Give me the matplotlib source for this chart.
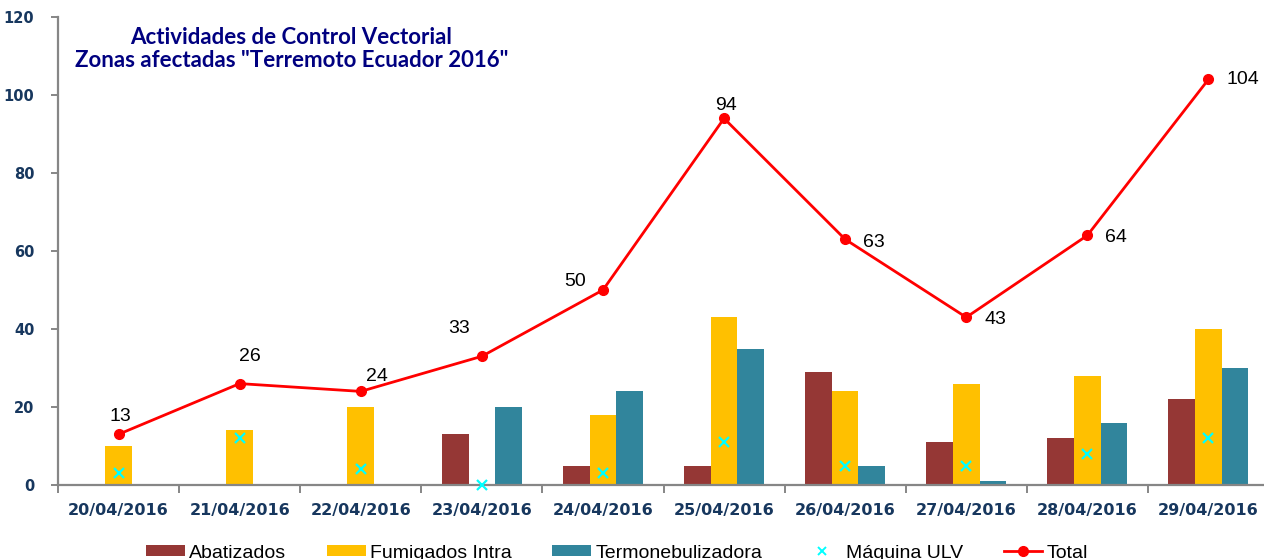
import matplotlib
matplotlib.use("Agg")
import matplotlib.pyplot as plt
from matplotlib.lines import Line2D
from matplotlib.patches import Patch
import numpy as np

# ---- data ----
fechas = ["20/04/2016", "21/04/2016", "22/04/2016", "23/04/2016", "24/04/2016",
          "25/04/2016", "26/04/2016", "27/04/2016", "28/04/2016", "29/04/2016"]
abatizados = [0, 0, 0, 13, 5, 5, 29, 11, 12, 22]
fumigados = [10, 14, 20, 0, 18, 43, 24, 26, 28, 40]
termonebulizadora = [0, 0, 0, 20, 24, 35, 5, 1, 16, 30]
maquina_ulv = [3, 12, 4, 0, 3, 11, 5, 5, 8, 12]
total = [13, 26, 24, 33, 50, 94, 63, 43, 64, 104]
yticks = [0, 20, 40, 60, 80, 100, 120]

# label offsets (pixels) for the Total data labels
label_offsets = [(2, 18), (10, 27), (16, 15), (-23, 28), (-28, 9),
                 (2, 13), (29, -3), (29, -2), (29, -2), (34, 0)]

C_AB = "#953735"
C_FU = "#FFC000"
C_TE = "#31859C"
C_ULV = "#00FFFF"
C_TOT = "#FF0000"
C_TICK = "#17375E"
C_AXIS = "#868686"

W, H = 1264, 559
fig = plt.figure(figsize=(W / 100, H / 100), dpi=100)
ax = fig.add_axes([58 / W, 74 / H, (1269 - 58) / W, (485 - 17) / H])

x = np.arange(len(fechas))
bw = 0.22
ax.bar(x - bw, abatizados, bw, color=C_AB, zorder=2, label="Abatizados")
ax.bar(x, fumigados, bw, color=C_FU, zorder=2, label="Fumigados Intra")
ax.bar(x + bw, termonebulizadora, bw, color=C_TE, zorder=2, label="Termonebulizadora")
ax.plot(x, maquina_ulv, linestyle="none", marker="x", markersize=7,
        markeredgewidth=1.6, color=C_ULV, zorder=4, clip_on=False)
ax.plot(x, total, color=C_TOT, linewidth=2.0, marker="o", markersize=7,
        zorder=5, clip_on=False)

for xi, v, (dx, dy) in zip(x, total, label_offsets):
    ax.annotate(str(v), (xi, v), xytext=(dx, dy), textcoords="offset pixels",
                ha="center", va="center", fontsize=14, family="Liberation Sans",
                color="black", zorder=6)

ax.set_xlim(-0.5, len(fechas) - 0.5)
ax.set_ylim(0, 120)
ax.set_yticks(yticks)
ax.set_yticklabels([str(t) for t in yticks])
ax.set_xticks(x)
ax.set_xticklabels(fechas)
ax.set_xticks(np.arange(-0.5, len(fechas)), minor=True)

for s in ["top", "right"]:
    ax.spines[s].set_visible(False)
for s in ["left", "bottom"]:
    ax.spines[s].set_color(C_AXIS)
    ax.spines[s].set_linewidth(1.6)

ax.tick_params(axis="x", which="major", length=0, pad=13)
ax.tick_params(axis="x", which="minor", length=6, width=1.4, color=C_AXIS)
ax.tick_params(axis="y", length=5, width=1.4, color=C_AXIS, pad=12)
for lab in ax.get_xticklabels():
    lab.set_fontsize(11.5)
    lab.set_fontweight("bold")
    lab.set_color(C_TICK)
    lab.set_family("DejaVu Sans")
for lab in ax.get_yticklabels():
    lab.set_fontsize(10.5)
    lab.set_fontweight("bold")
    lab.set_color(C_TICK)
    lab.set_family("DejaVu Sans")

# title
fig.text(291 / W, 1 - 37 / H, "Actividades de Control Vectorial", ha="center", va="center",
         fontsize=16, fontweight="bold", color="#000080", family="Lato")
fig.text(292 / W, 1 - 61 / H, 'Zonas afectadas "Terremoto Ecuador 2016"', ha="center", va="center",
         fontsize=16, fontweight="bold", color="#000080", family="Lato")

handles = [
    Patch(facecolor=C_AB, label="Abatizados"),
    Patch(facecolor=C_FU, label="Fumigados Intra"),
    Patch(facecolor=C_TE, label="Termonebulizadora"),
    Line2D([], [], linestyle="none", marker="x", markersize=6, markeredgewidth=1.4,
           color=C_ULV, label="Máquina ULV"),
    Line2D([], [], color=C_TOT, linewidth=2.0, marker="o", markersize=7, label="Total"),
]
fig.legend(handles=handles, loc="center", bbox_to_anchor=(617 / W, 6 / H), ncol=5,
           frameon=False, prop={"family": "Liberation Sans", "size": 14},
           handlelength=2.0, handleheight=0.55, handletextpad=0.2, columnspacing=2.1,
           borderpad=0, borderaxespad=0)

fig.savefig("out.png", dpi=100)
